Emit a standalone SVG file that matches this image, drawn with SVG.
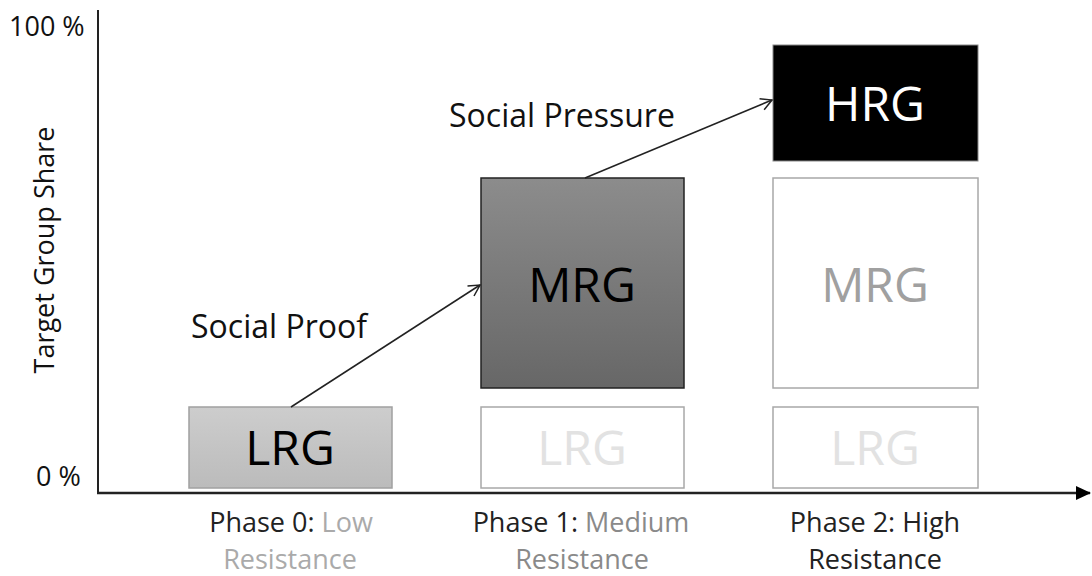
<svg xmlns="http://www.w3.org/2000/svg" width="1092" height="576" viewBox="0 0 1092 576">
<style>
text{font-family:"Open Sans","Noto Sans","Liberation Sans",sans-serif;}
.ax{font-size:27px;fill:#111;}
.ph{font-size:27px;text-anchor:middle;}
.lbl{font-size:32px;fill:#111;}
.box{font-size:48px;text-anchor:middle;dominant-baseline:central;}
.empty{fill:#fff;stroke:#a8a8a8;stroke-width:1.5;}
</style>
<defs>
<linearGradient id="gL" x1="0" y1="0" x2="0" y2="1"><stop offset="0" stop-color="#cdcdcd"/><stop offset="1" stop-color="#bbbbbb"/></linearGradient>
<linearGradient id="gM" x1="0" y1="0" x2="0" y2="1"><stop offset="0" stop-color="#8c8c8c"/><stop offset="1" stop-color="#676767"/></linearGradient>
<marker id="open" markerWidth="14" markerHeight="14" refX="12" refY="7" orient="auto" markerUnits="userSpaceOnUse"><path d="M1,1 L12,7 L1,13" fill="none" stroke="#222" stroke-width="1.5"/></marker>
<marker id="solid" markerWidth="16" markerHeight="16" refX="14" refY="8" orient="auto" markerUnits="userSpaceOnUse"><path d="M0,1 L15,8 L0,15 Z" fill="#000"/></marker>
</defs>
<g id="axes">
<line x1="98" y1="10" x2="98" y2="493" stroke="#222" stroke-width="2"/>
<line x1="97" y1="493" x2="1090" y2="493" stroke="#222" stroke-width="2.5" marker-end="url(#solid)"/>
<text class="ax" x="9" y="36">100 %</text>
<text class="ax" x="36" y="486">0 %</text>
<text class="ax" transform="translate(54,250) rotate(-90)" text-anchor="middle">Target Group Share</text>
</g>
<g id="phase0">
<rect x="189" y="407" width="203" height="81" fill="url(#gL)" stroke="#a0a0a0" stroke-width="1.5"/>
<text class="box" x="290" y="446" fill="#000">LRG</text>
<text class="ph" x="291" y="532"><tspan fill="#222">Phase 0: </tspan><tspan fill="#aaaaaa">Low</tspan></text>
<text class="ph" x="290" y="569" fill="#aaaaaa">Resistance</text>
</g>
<g id="phase1">
<rect x="481" y="178" width="203" height="210" fill="url(#gM)" stroke="#222" stroke-width="1.5"/>
<text class="box" x="582" y="283" fill="#000">MRG</text>
<rect class="empty" x="481" y="407" width="203" height="81"/>
<text class="box" x="582" y="446" fill="#e2e2e2">LRG</text>
<text class="ph" x="581" y="532"><tspan fill="#222">Phase 1: </tspan><tspan fill="#8a8a8a">Medium</tspan></text>
<text class="ph" x="582" y="569" fill="#8a8a8a">Resistance</text>
</g>
<g id="phase2">
<rect x="773" y="45" width="205" height="116" fill="#000" stroke="#888" stroke-width="1"/>
<text class="box" x="875" y="102" fill="#fff">HRG</text>
<rect class="empty" x="773" y="178" width="205" height="210"/>
<text class="box" x="875" y="283" fill="#a0a0a0">MRG</text>
<rect class="empty" x="773" y="407" width="205" height="81"/>
<text class="box" x="875" y="446" fill="#e2e2e2">LRG</text>
<text class="ph" x="875" y="532" fill="#222">Phase 2: High</text>
<text class="ph" x="875" y="569" fill="#222">Resistance</text>
</g>
<g id="connectors" stroke="#222" stroke-width="1.5" fill="none">
<line x1="291" y1="407" x2="480" y2="285" marker-end="url(#open)"/>
<line x1="585" y1="178" x2="772" y2="100" marker-end="url(#open)"/>
</g>
<g id="labels">
<text class="lbl" x="191" y="338">Social Proof</text>
<text class="lbl" x="449" y="127">Social Pressure</text>
</g>
</svg>
